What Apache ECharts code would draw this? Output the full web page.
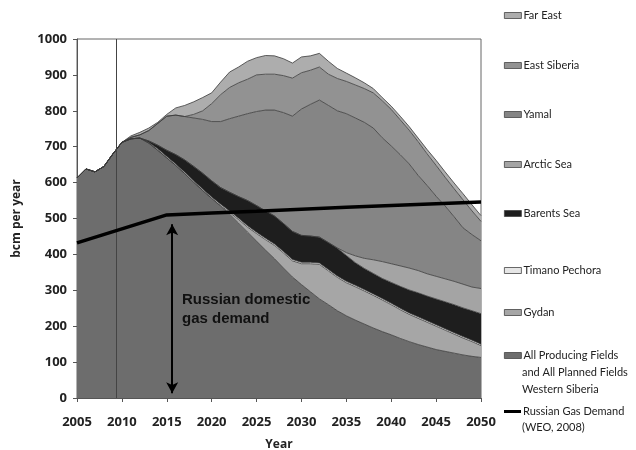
<!DOCTYPE html>
<html>
<head>
<meta charset="utf-8">
<script src="https://cdn.jsdelivr.net/npm/echarts@6/dist/echarts.min.js"></script>
<style>
  html, body { margin: 0; padding: 0; background: #fff; }
  #chart { width: 636px; height: 450px; }
</style>
</head>
<body>
<div id="chart"></div>
<script>
// years on the x axis
const years = [2005, 2006, 2007, 2008, 2009, 2010, 2011, 2012, 2013, 2014,
  2015, 2016, 2017, 2018, 2019, 2020, 2021, 2022, 2023, 2024,
  2025, 2026, 2027, 2028, 2029, 2030, 2031, 2032, 2033, 2034,
  2035, 2036, 2037, 2038, 2039, 2040, 2041, 2042, 2043, 2044,
  2045, 2046, 2047, 2048, 2049, 2050];

// stacked layers, bcm per year (bottom to top)
const westSiberia = [613, 638, 630, 645, 680, 712, 722, 724, 710, 690,
  669, 648, 625, 601, 578, 556, 534, 512, 487, 462,
  437, 412, 388, 362, 337, 316, 296, 276, 260, 243,
  229, 217, 206, 195, 185, 176, 166, 157, 149, 142,
  135, 130, 125, 120, 116, 113];
const gydan = [0, 0, 0, 0, 0, 0, 0, 0, 0, 0,
  0, 0, 0, 0, 0, 0, 2, 5, 10, 14,
  21, 29, 37, 42, 45, 58, 78, 96, 94, 93,
  92, 93, 92, 91, 88, 84, 80, 76, 73, 69,
  65, 59, 53, 47, 41, 33];
const timanoPechora = [0, 0, 0, 0, 0, 0, 0, 0, 2, 4,
  4, 4, 4, 4, 4, 4, 4, 4, 4, 4,
  4, 4, 4, 4, 4, 4, 4, 4, 4, 4,
  4, 4, 4, 4, 4, 4, 4, 4, 4, 4,
  4, 4, 4, 4, 4, 4];
const barentsSea = [0, 0, 0, 0, 0, 0, 0, 0, 4, 10,
  17, 26, 34, 40, 44, 45, 46, 52, 60, 70,
  74, 76, 78, 78, 78, 75, 73, 72, 75, 77,
  72, 63, 59, 57, 56, 58, 61, 64, 67, 69,
  72, 75, 78, 80, 82, 85];
const arcticSea = [0, 0, 0, 0, 0, 0, 0, 0, 0, 0,
  0, 0, 0, 0, 0, 0, 0, 0, 0, 0,
  0, 0, 0, 0, 0, 0, 0, 0, 0, 1,
  8, 19, 28, 38, 47, 52, 57, 61, 62, 62,
  63, 64, 65, 66, 66, 70];
const yamal = [0, 0, 0, 0, 0, 0, 4, 9, 29, 61,
  95, 110, 121, 135, 150, 165, 184, 205, 224, 242,
  262, 281, 295, 309, 321, 352, 367, 382, 382, 382,
  387, 384, 379, 367, 345, 328, 310, 290, 265, 246,
  223, 203, 180, 157, 146, 133];
const eastSiberia = [0, 0, 0, 0, 0, 0, 0, 0, 0, 0,
  0, 0, 0, 10, 24, 50, 75, 87, 93, 96,
  102, 100, 100, 103, 106, 101, 95, 92, 87, 90,
  90, 92, 94, 98, 103, 102, 97, 94, 94, 88,
  86, 80, 78, 78, 66, 54];
const farEast = [0, 0, 0, 0, 0, 0, 4, 7, 7, 3,
  5, 20, 31, 35, 37, 30, 35, 43, 44, 50,
  48, 52, 51, 47, 42, 44, 40, 38, 36, 28,
  23, 20, 16, 12, 9, 9, 10, 10, 10, 12,
  14, 15, 16, 17, 17, 16];

// Russian gas demand (WEO, 2008)
const demandYears = [2005, 2010, 2015, 2020, 2025, 2030, 2035, 2040, 2045, 2050];
const demand = [432, 471, 510, 515, 520, 526, 531, 536, 541, 546];

// annotations
const markerYear = 2009.4;
const arrowYear = 2015.6;
const arrowRange = [13, 484];

const font = 'Open Sans';
const legendFont = 'Lato';

let el = document.getElementById('chart');
let myChart = echarts.init(el);

function area(name, values, color) {
  return {
    name: name,
    type: 'line',
    stack: 'total',
    data: values,
    symbol: 'none',
    showSymbol: false,
    color: color,
    lineStyle: { color: '#3a3a3a', width: 0.8 },
    areaStyle: { color: color, opacity: 1 },
    emphasis: { disabled: true },
    silent: true
  };
}

const series = [
  area('All Producing Fields', westSiberia, '#6d6d6d'),
  area('Gydan', gydan, '#a6a6a6'),
  area('Timano Pechora', timanoPechora, '#e6e6e6'),
  area('Barents Sea', barentsSea, '#1e1e1e'),
  area('Arctic Sea', arcticSea, '#a4a4a4'),
  area('Yamal', yamal, '#858585'),
  area('East Siberia', eastSiberia, '#929292'),
  area('Far East', farEast, '#adadad'),
  {
    // thin vertical marker line
    type: 'line',
    xAxisIndex: 1,
    data: [],
    silent: true,
    z: 4,
    markLine: {
      silent: true,
      symbol: ['none', 'none'],
      label: { show: false },
      lineStyle: { color: '#444', width: 1, type: 'solid' },
      data: [{ xAxis: markerYear }]
    }
  },
  {
    name: 'Russian Gas Demand',
    type: 'line',
    xAxisIndex: 1,
    data: demandYears.map((y, i) => [y, demand[i]]),
    symbol: 'none',
    color: '#000',
    lineStyle: { color: '#000', width: 3.5 },
    z: 5,
    silent: true,
    markLine: {
      silent: true,
      symbol: ['arrow', 'arrow'],
      symbolSize: [9, 11],
      label: { show: false },
      lineStyle: { color: '#000', width: 2, type: 'solid' },
      data: [
        [
          { coord: [arrowYear, arrowRange[0]] },
          { coord: [arrowYear, arrowRange[1]] }
        ]
      ]
    }
  }
];

// legend rows: name and vertical centre
const legendRows = [
  ['Far East', 17], ['East Siberia', 67], ['Yamal', 116], ['Arctic Sea', 166],
  ['Barents Sea', 215], ['Timano Pechora', 272], ['Gydan', 314],
  ['All Producing Fields', 357], ['Russian Gas Demand', 413]
];

const legends = legendRows.map(r => ({
  data: [r[0]],
  left: 504,
  top: r[1] - 7,
  padding: 0,
  orient: 'vertical',
  selectedMode: false,
  icon: 'rect',
  itemWidth: 17,
  itemHeight: r[0] === 'Russian Gas Demand' ? 3 : 6,
  itemGap: 4,
  itemStyle: r[0] === 'Russian Gas Demand' ? {} : { borderColor: '#444', borderWidth: 0.8 },
  textStyle: { fontFamily: legendFont, fontSize: 11, color: '#222', padding: [0, 0, 0, -3] }
}));

function legendLine(text, y) {
  return { type: 'text', left: 522, top: y - 7, silent: true,
    style: { text: text, font: '11px ' + legendFont, fill: '#222' } };
}

const axisText = { fontFamily: font, fontWeight: 'bold', fontSize: 13, color: '#222' };

let option = {
  animation: false,
  backgroundColor: '#fff',
  grid: {
    left: 77, right: 155, top: 39, bottom: 52,
    outerBoundsMode: 'none',
    show: true, borderColor: '#666', borderWidth: 1, backgroundColor: '#fff'
  },
  legend: legends,
  xAxis: [
    {
      type: 'category',
      data: years,
      boundaryGap: false,
      name: 'Year',
      nameLocation: 'middle',
      nameGap: 41,
      nameTextStyle: { fontFamily: font, fontWeight: 'bold', fontSize: 12, color: '#222' },
      axisLine: { show: true, lineStyle: { color: '#555' } },
      axisTick: { show: true, interval: 4, length: 4, lineStyle: { color: '#555' } },
      axisLabel: Object.assign({ margin: 18, interval: 4 }, axisText),
      splitLine: { show: false }
    },
    {
      type: 'value',
      min: 2005,
      max: 2050,
      show: false
    }
  ],
  yAxis: {
    type: 'value',
    min: 0,
    max: 1000,
    interval: 100,
    name: 'bcm per year',
    nameLocation: 'middle',
    nameGap: 54,
    nameTextStyle: { fontFamily: font, fontWeight: 'bold', fontSize: 12, color: '#222' },
    axisLine: { show: true, lineStyle: { color: '#555' } },
    axisTick: { show: true, length: 4, lineStyle: { color: '#555' } },
    axisLabel: Object.assign({ margin: 10, formatter: v => String(v) }, axisText),
    splitLine: { show: false }
  },
  graphic: [
    legendLine('and All Planned Fields', 374),
    legendLine('Western Siberia', 391),
    legendLine('(WEO, 2008)', 429),
    {
      type: 'text', left: 182, top: 290, z: 100, silent: true,
      style: { text: 'Russian domestic\ngas demand', font: 'bold 15px "Liberation Sans"', lineHeight: 19, fill: '#111' }
    }
  ],
  series: series
};

myChart.setOption(option);
</script>
</body>
</html>
